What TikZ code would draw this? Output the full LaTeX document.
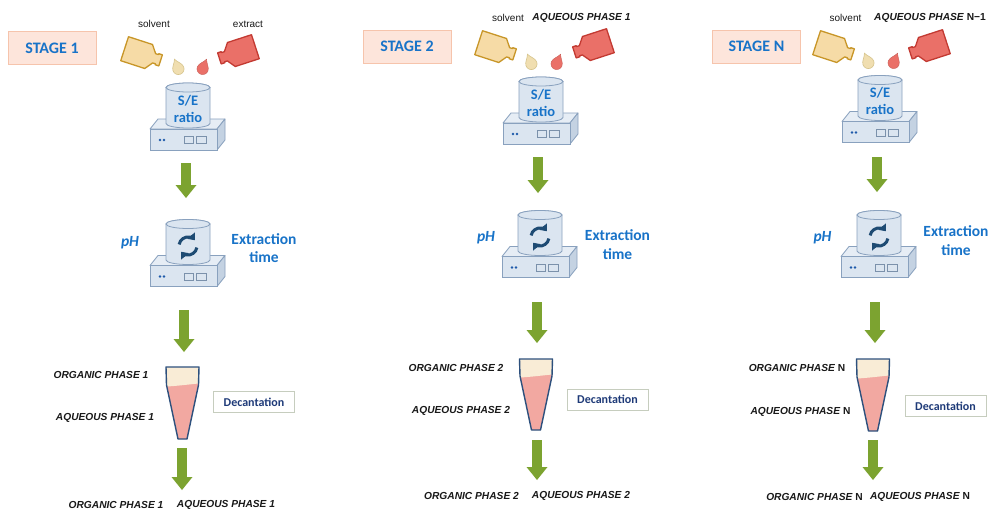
\documentclass[tikz,border=0pt]{standalone}
\usepackage{fontspec}
\setmainfont{Liberation Sans}
\newfontfamily\calib{Carlito}
\usetikzlibrary{arrows.meta}

\definecolor{stageblue}{RGB}{24,115,200}
\definecolor{stagefill}{RGB}{253,229,219}
\definecolor{stageedge}{RGB}{246,196,172}
\definecolor{arrowgreen}{RGB}{124,163,48}
\definecolor{vesselfill}{RGB}{219,229,240}
\definecolor{vesseledge}{RGB}{137,161,190}
\definecolor{platetopc}{RGB}{230,237,245}
\definecolor{platesidec}{RGB}{196,210,226}
\definecolor{dotblue}{RGB}{30,90,170}
\definecolor{iconblue}{RGB}{30,75,115}
\definecolor{solvfill}{RGB}{246,219,166}
\definecolor{solvedge}{RGB}{200,150,40}
\definecolor{dropsolv}{RGB}{240,222,176}
\definecolor{dropsolvedge}{RGB}{214,196,140}
\definecolor{extrfill}{RGB}{234,112,104}
\definecolor{extredge}{RGB}{195,58,50}
\definecolor{orgfill}{RGB}{249,236,214}
\definecolor{aqfill}{RGB}{242,168,161}
\definecolor{funneledge}{RGB}{45,80,125}
\definecolor{decedge}{RGB}{198,205,190}
\definecolor{decblue}{RGB}{30,58,120}
\definecolor{labelblack}{RGB}{25,25,25}

% stirring plate with a cylindrical vessel; #1 = axis x, #2 = y of the vessel rim, #3 = contents
\newcommand\StirPlate[3]{%
  \begin{scope}[shift={(#1,-#2)}]
    \filldraw[platetop] (-38,-41.5) -- (29,-41.5) -- (37,-31.5) -- (-30,-31.5) -- cycle;
    \filldraw[plateside] (29,-41.5) -- (37,-31.5) -- (37,-52.5) -- (29,-62.5) -- cycle;
    \filldraw[platefront] (-38,-41.5) rectangle (29,-62.5);
    \fill[dotblue] (-28,-52.5) circle (1.4) (-24,-52.5) circle (1.4);
    \draw[knob] (-4,-49) rectangle (5,-56) (8,-49) rectangle (18,-56);
    \filldraw[vessel] (-22,0) -- (-22,-36)
      arc[start angle=180,end angle=360,x radius=22,y radius=4.5] -- (22,0)
      arc[start angle=0,end angle=180,x radius=22,y radius=4.5] -- cycle;
    \draw[vessel] (0,0) ellipse[x radius=22,y radius=4.5];
    #3
  \end{scope}}

% two-arrow rotation symbol inside the vessel
\newcommand\RotIcon{%
  \draw[roticon] (0,-22) ++(170:9) arc[start angle=170,end angle=40,radius=9];
  \draw[roticon] (0,-22) ++(-10:9) arc[start angle=-10,end angle=-140,radius=9];}

% tilted bottle; #1,#2 = centre, #3 = transform, #4 = style
\newcommand\Bottle[4]{%
  \filldraw[#4, shift={(#1,-#2)}, #3]
    (-21,13) -- (5,13) -- (11,5) -- (14,5) -- (14,6) -- (18,6) -- (18,-6)
    -- (14,-6) -- (14,-5) -- (11,-5) -- (5,-13) -- (-21,-13) -- cycle;}

% falling drop; #1,#2 = centre, #3 = tilt, #4 = style
\newcommand\Droplet[4]{%
  \filldraw[#4, shift={(#1,-#2)}, rotate=#3, scale=0.95]
    (0,10) .. controls (-1.5,6) and (-6,3) .. (-6,-1)
    arc[start angle=180,end angle=360,radius=6]
    .. controls (6,3) and (1.5,6) .. (0,10) -- cycle;}

% conical decantation tube; #1 = axis x, #2 = top, #3 = interface, #4 = tip
\newcommand\SepFunnel[4]{%
  \fill[aqueous] ({#1-16.5},{-#2}) -- ({#1+16.5},{-#2}) -- ({#1+16},{-#3})
    -- ({#1+4.5},{-#4}) -- ({#1-4.5},{-#4}) -- ({#1-16},{-#3}) -- cycle;
  \fill[organic] ({#1-16.5},{-#2}) -- ({#1+16.5},{-#2}) -- ({#1+16},{-#3+1.5})
    .. controls ({#1+6},{-#3+0.5}) and ({#1-6},{-#3-1}) .. ({#1-16},{-#3-1.5}) -- cycle;
  \draw[funnelline] ({#1-16.5},{-#2}) -- ({#1+16.5},{-#2}) -- ({#1+16},{-#3})
    -- ({#1+4.5},{-#4}) -- ({#1-4.5},{-#4}) -- ({#1-16},{-#3}) -- cycle;}

\begin{document}
\begin{tikzpicture}[x=1pt,y=1pt,
  stagebox/.style={draw=stageedge, fill=stagefill, line width=0.8pt,
    minimum width=88pt, minimum height=33pt, inner sep=0pt, text=stageblue,
    font=\calib\bfseries\fontsize{16}{19}\selectfont},
  seltext/.style={inner sep=0pt, align=center, text=stageblue,
    font=\calib\bfseries\fontsize{14.5}{17}\selectfont},
  paramtext/.style={inner sep=0pt, align=center, text=stageblue,
    font=\calib\bfseries\fontsize{15.5}{18.5}\selectfont},
  phtext/.style={inner sep=0pt, text=stageblue,
    font=\calib\bfseries\itshape\fontsize{15.5}{18}\selectfont},
  decbox/.style={draw=decedge, fill=white, line width=0.9pt,
    minimum width=81pt, minimum height=21pt, inner sep=0pt, text=decblue,
    font=\calib\bfseries\fontsize{12}{14}\selectfont},
  phase/.style={inner sep=0pt, text=labelblack,
    font=\fontsize{10.2}{12}\selectfont\bfseries\itshape},
  smalltext/.style={inner sep=0pt, text=labelblack, font=\fontsize{10}{12}\selectfont},
  greenflow/.style={draw=arrowgreen, line width=10pt,
    -{Triangle[length=13pt,width=21pt,line width=0pt]}},
  vessel/.style={draw=vesseledge, fill=vesselfill, line width=0.8pt},
  platetop/.style={draw=vesseledge, fill=platetopc, line width=0.8pt, line join=round},
  plateside/.style={draw=vesseledge, fill=platesidec, line width=0.8pt, line join=round},
  platefront/.style={draw=vesseledge, fill=vesselfill, line width=0.8pt},
  knob/.style={draw=vesseledge!90!black, line width=0.7pt},
  roticon/.style={draw=iconblue, line width=3pt,
    -{Triangle[length=6pt,width=10pt,line width=0pt]}},
  solvbottle/.style={draw=solvedge, fill=solvfill, line width=1.3pt, line join=round},
  extrbottle/.style={draw=extredge, fill=extrfill, line width=1.3pt, line join=round},
  solvdrop/.style={draw=dropsolvedge, fill=dropsolv, line width=0.6pt},
  extrdrop/.style={draw=extrfill!85!black, fill=extrfill, line width=0.4pt},
  organic/.style={fill=orgfill},
  aqueous/.style={fill=aqfill},
  funnelline/.style={draw=funneledge, line width=1.4pt, line join=round}]

\useasboundingbox (0,0) rectangle (991,-511);
\fill[white] (0,0) rectangle (991,-511);

% ---------------- stage 1 ----------------
\node[stagebox] (s1stage) at (52,-48) {STAGE 1};
\node[smalltext] (s1solv) at (154,-24) {solvent};
\node[smalltext] (s1extr) at (248,-24) {extract};
\Bottle{144}{55}{rotate=-18, scale=0.97}{solvbottle}
\Bottle{236}{53}{rotate=18, xscale=-0.97, yscale=0.97}{extrbottle}
\Droplet{178}{68}{22}{solvdrop}
\Droplet{203}{68}{-22}{extrdrop}
\StirPlate{188}{87.5}{\node[seltext] (s1ratio) at (0,-21) {S/E\\ratio};}
\StirPlate{188}{224}{\RotIcon}
\node[phtext] (s1ph) at (130,-243) {pH};
\node[paramtext] (s1time) at (264,-248) {Extraction\\time};
\SepFunnel{182.5}{367}{385}{439}
\node[phase] (s1org) at (101,-375) {ORGANIC PHASE 1};
\node[phase] (s1aq) at (105,-418) {AQUEOUS PHASE 1};
\node[decbox] (s1dec) at (254,-402) {Decantation};
\node[phase] (s1outorg) at (116,-505) {ORGANIC PHASE 1};
\node[phase] (s1outaq) at (226,-505) {AQUEOUS PHASE 1};
\coordinate (s1f1a) at (186,-163); \coordinate (s1f1b) at (186,-198);
\coordinate (s1f2a) at (184,-310); \coordinate (s1f2b) at (184,-352);
\coordinate (s1f3a) at (182,-448); \coordinate (s1f3b) at (182,-490);
\draw[greenflow] (s1f1a) -- (s1f1b);
\draw[greenflow] (s1f2a) -- (s1f2b);
\draw[greenflow] (s1f3a) -- (s1f3b);

% ---------------- stage 2 ----------------
\node[stagebox] (s2stage) at (407,-46.5) {STAGE 2};
\node[smalltext] (s2solv) at (508,-18) {solvent};
\node[phase] (s2extr) at (581.5,-18) {AQUEOUS PHASE 1};
\Bottle{498}{49}{rotate=-18, scale=0.97}{solvbottle}
\Bottle{591}{47}{rotate=18, xscale=-0.97, yscale=0.97}{extrbottle}
\Droplet{531}{63}{22}{solvdrop}
\Droplet{557}{63}{-22}{extrdrop}
\StirPlate{541}{81.5}{\node[seltext] (s2ratio) at (0,-21) {S/E\\ratio};}
\StirPlate{540}{215}{\RotIcon}
\node[phtext] (s2ph) at (486,-238) {pH};
\node[paramtext] (s2time) at (617.5,-244.5) {Extraction\\time};
\SepFunnel{536}{359}{376}{430}
\node[phase] (s2org) at (456,-368) {ORGANIC PHASE 2};
\node[phase] (s2aq) at (461,-411) {AQUEOUS PHASE 2};
\node[decbox] (s2dec) at (607.5,-399.5) {Decantation};
\node[phase] (s2outorg) at (471.5,-496) {ORGANIC PHASE 2};
\node[phase] (s2outaq) at (581,-496) {AQUEOUS PHASE 2};
\coordinate (s2f1a) at (538,-157); \coordinate (s2f1b) at (538,-193);
\coordinate (s2f2a) at (537,-302); \coordinate (s2f2b) at (537,-343);
\coordinate (s2f3a) at (537,-440); \coordinate (s2f3b) at (537,-480);
\draw[greenflow] (s2f1a) -- (s2f1b);
\draw[greenflow] (s2f2a) -- (s2f2b);
\draw[greenflow] (s2f3a) -- (s2f3b);

% ---------------- stage N ----------------
\node[stagebox] (snstage) at (756.5,-46.5) {STAGE N};
\node[smalltext] (snsolv) at (845.5,-18) {solvent};
\node[phase] (snextr) at (930,-18) {AQUEOUS PHASE\hspace{3pt}{\upshape N−1}};
\Bottle{836}{49}{rotate=-18, scale=0.97}{solvbottle}
\Bottle{927}{48}{rotate=18, xscale=-0.97, yscale=0.97}{extrbottle}
\Droplet{868}{62}{22}{solvdrop}
\Droplet{894}{62}{-22}{extrdrop}
\StirPlate{880}{80}{\node[seltext] (snratio) at (0,-21) {S/E\\ratio};}
\StirPlate{879}{215}{\RotIcon}
\node[phtext] (snph) at (822.5,-238) {pH};
\node[paramtext] (sntime) at (956,-240.5) {Extraction\\time};
\SepFunnel{873}{359}{377}{431}
\node[phase] (snorg) at (797,-368) {ORGANIC PHASE\hspace{3pt}{\upshape N}};
\node[phase] (snaq) at (800.5,-412) {AQUEOUS PHASE\hspace{3pt}{\upshape N}};
\node[decbox] (sndec) at (945.5,-406) {Decantation};
\node[phase] (snoutorg) at (814.5,-497) {ORGANIC PHASE\hspace{3pt}{\upshape N}};
\node[phase] (snoutaq) at (920,-497) {AQUEOUS PHASE\hspace{3pt}{\upshape N}};
\coordinate (snf1a) at (877,-157); \coordinate (snf1b) at (877,-192);
\coordinate (snf2a) at (875,-302); \coordinate (snf2b) at (875,-343);
\coordinate (snf3a) at (873,-440); \coordinate (snf3b) at (873,-480);
\draw[greenflow] (snf1a) -- (snf1b);
\draw[greenflow] (snf2a) -- (snf2b);
\draw[greenflow] (snf3a) -- (snf3b);
\end{tikzpicture}
\end{document}
